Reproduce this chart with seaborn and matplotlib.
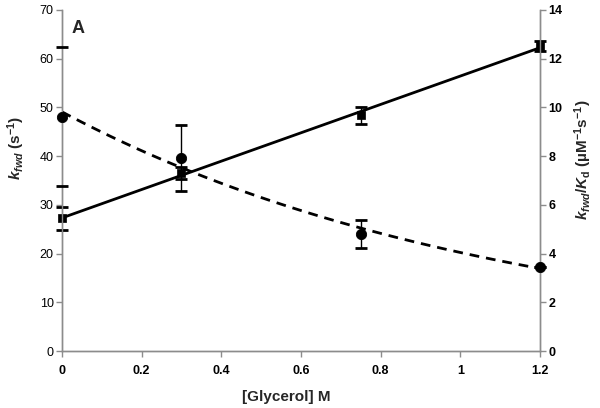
import numpy as np
import matplotlib.pyplot as plt
import seaborn as sns
import pandas as pd

sns.set_style('white')
plt.rcParams['font.family'] = ['Liberation Sans', 'DejaVu Sans']
plt.rcParams['mathtext.fontset'] = 'custom'
plt.rcParams['mathtext.rm'] = 'Liberation Sans:bold'
plt.rcParams['mathtext.it'] = 'Liberation Sans:italic:bold'
plt.rcParams['mathtext.bf'] = 'Liberation Sans:bold'

glycerol = [0, 0.3, 0.75, 1.2]
kfwd = [27.2, 36.6, 48.4, 62.6]            # s^-1, left axis
kfwd_err = [2.4, 1.2, 1.7, 1.0]
kfwd_kd = [9.62, 7.93, 4.80, 3.45]         # uM^-1 s^-1, right axis
kfwd_kd_err = [2.86, 1.35, 0.59, 0.0]

df = pd.DataFrame({'glycerol': glycerol, 'kfwd': kfwd, 'kfwd_kd': kfwd_kd})

# trendlines: linear for kfwd, exponential for kfwd/Kd
xs = np.linspace(0, 1.2, 100)
lin = np.polyfit(df.glycerol, df.kfwd, 1)
expo = np.polyfit(df.glycerol, np.log(df.kfwd_kd), 1)
fit = pd.DataFrame({'x': xs, 'lin': np.polyval(lin, xs),
                    'exp': np.exp(np.polyval(expo, xs))})

fig = plt.figure(figsize=(6, 4.08), dpi=100)
ax = fig.add_axes([0.1033, 0.1397, 0.7967, 0.8358])
ax2 = ax.twinx()

sns.lineplot(data=fit, x='x', y='lin', ax=ax, color='black', lw=2)
eb1 = ax.errorbar(df.glycerol, df.kfwd, yerr=kfwd_err, fmt='none', ecolor='black',
                  elinewidth=1, capsize=4, capthick=2, clip_on=False, zorder=3)
sns.scatterplot(data=df, x='glycerol', y='kfwd', ax=ax, marker='s', s=40,
                color='black', edgecolor='black', clip_on=False, zorder=4)

sns.lineplot(data=fit, x='x', y='exp', ax=ax2, color='black', lw=2)
ax2.lines[-1].set_dashes((3.5, 2.5))
eb2 = ax2.errorbar(df.glycerol, df.kfwd_kd, yerr=kfwd_kd_err, fmt='none', ecolor='black',
                   elinewidth=1, capsize=4, capthick=2, clip_on=False, zorder=3)
sns.scatterplot(data=df, x='glycerol', y='kfwd_kd', ax=ax2, marker='o', s=55,
                color='black', edgecolor='black', clip_on=False, zorder=4)

# the bar stems at x=0 sit under the grey axis line in the original
for eb in (eb1, eb2):
    eb.lines[2][0].set_linewidths([0, 1, 1, 1])

ax.set_xlim(0, 1.2)
ax.set_ylim(0, 70)
ax2.set_ylim(0, 14)
ax.set_xticks([0, 0.2, 0.4, 0.6, 0.8, 1.0, 1.2])
ax.set_xticklabels(['0', '0.2', '0.4', '0.6', '0.8', '1', '1.2'], fontweight='bold')
ax.set_yticks(range(0, 71, 10))
ax2.set_yticks(range(0, 15, 2))
for t in ax2.get_yticklabels():
    t.set_fontweight('bold')

for a in (ax, ax2):
    a.spines['top'].set_visible(False)
    for s in ('left', 'right', 'bottom'):
        a.spines[s].set_color('#8c8c8c')
        a.spines[s].set_linewidth(1)
    a.tick_params(direction='out', length=4, width=1, color='#8c8c8c',
                  labelsize=9, labelcolor='black')
ax.tick_params(axis='x', bottom=True, pad=6)
ax.tick_params(axis='y', left=True, pad=2)
ax2.tick_params(axis='y', right=True, pad=2)

ax.set_xlabel('[Glycerol] M', fontsize=11, fontweight='bold', labelpad=6)
ax.xaxis.set_label_coords(0.47, -0.115)
ax.set_ylabel(r'$k_{fwd}$ (s$^{-1}$)', fontsize=11, fontweight='bold')
ax.yaxis.set_label_coords(-0.073, 0.595)
ax2.set_ylabel(r'$k_{fwd}/K_{\mathrm{d}}$ (µM$^{-1}$s$^{-1}$)', fontsize=11,
               fontweight='bold', rotation=90)
ax2.yaxis.set_label_coords(1.067, 0.56)
ax.text(0.02, 0.945, 'A', transform=ax.transAxes, fontsize=13,
        fontweight='bold', ha='left', va='center')

fig.savefig('out.png', dpi=100)
